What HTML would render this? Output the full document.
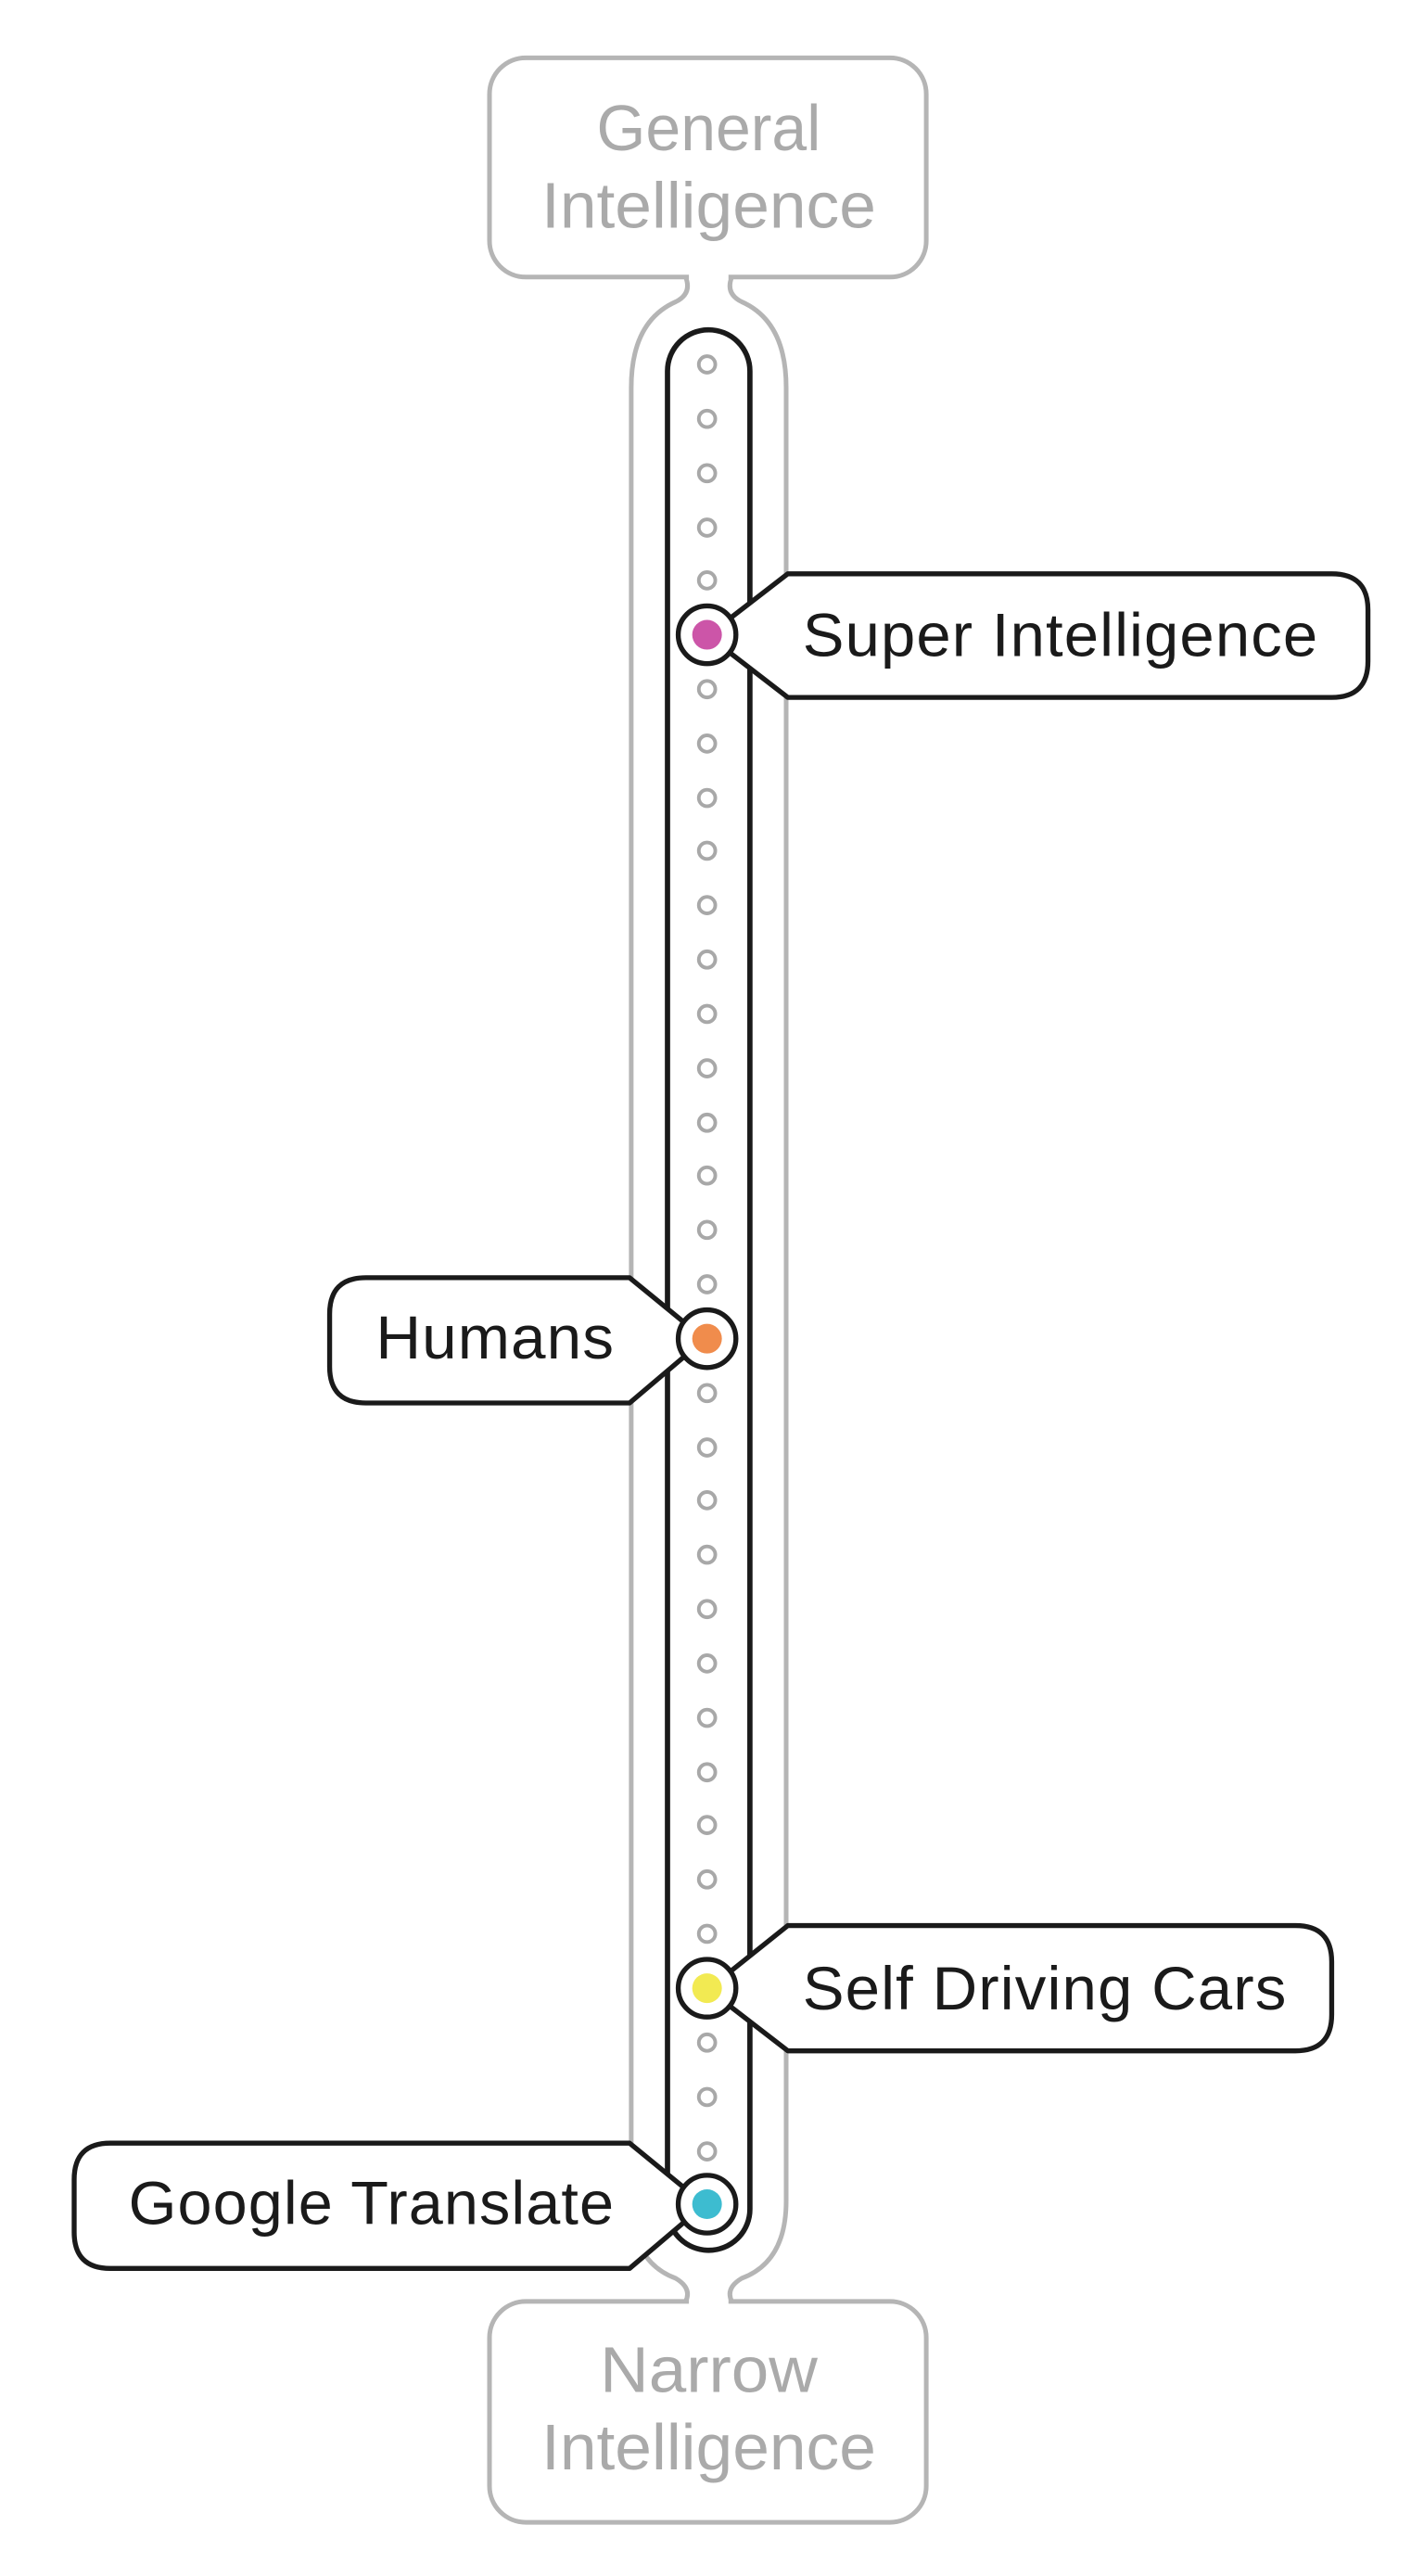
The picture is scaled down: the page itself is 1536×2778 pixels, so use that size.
<!DOCTYPE html>
<html><head><meta charset="utf-8"><style>
html,body{margin:0;padding:0;background:#fff;}
svg{display:block;}
text{font-family:"Liberation Sans",sans-serif;}
</style></head><body>
<svg width="1536" height="2778" viewBox="0 0 864 1562.5" xmlns="http://www.w3.org/2000/svg">
<rect width="864" height="1562.5" fill="#fff"/>
<rect x="297" y="35" width="265" height="133" rx="22" fill="#fff" stroke="#b5b5b5" stroke-width="2.8"/>
<line x1="418" y1="168" x2="442" y2="168" stroke="#fff" stroke-width="4"/>
<rect x="297" y="1396" width="265" height="134" rx="22" fill="#fff" stroke="#b5b5b5" stroke-width="2.8"/>
<line x1="418" y1="1396" x2="442" y2="1396" stroke="#fff" stroke-width="4"/>
<path d="M416,168 Q420,178 410,183 Q383,195 383,235 V1335 Q383,1372 410,1382 Q420,1388 416,1396" fill="none" stroke="#b5b5b5" stroke-width="2.8"/>
<path d="M444,168 Q440,178 450,183 Q477,195 477,235 V1335 Q477,1372 450,1382 Q440,1388 444,1396" fill="none" stroke="#b5b5b5" stroke-width="2.8"/>
<rect x="405" y="200" width="50" height="1165" rx="25" fill="#fff" stroke="#1a1a1a" stroke-width="3.2"/>
<g fill="none" stroke="#a8a8a8" stroke-width="2.2">
<circle cx="429" cy="221" r="5"/><circle cx="429" cy="254" r="5"/><circle cx="429" cy="287" r="5"/><circle cx="429" cy="320" r="5"/><circle cx="429" cy="352" r="5"/>
<circle cx="429" cy="418" r="5"/><circle cx="429" cy="451" r="5"/><circle cx="429" cy="484" r="5"/><circle cx="429" cy="516" r="5"/><circle cx="429" cy="549" r="5"/><circle cx="429" cy="582" r="5"/><circle cx="429" cy="615" r="5"/><circle cx="429" cy="648" r="5"/><circle cx="429" cy="681" r="5"/><circle cx="429" cy="713" r="5"/><circle cx="429" cy="746" r="5"/><circle cx="429" cy="779" r="5"/>
<circle cx="429" cy="845" r="5"/><circle cx="429" cy="878" r="5"/><circle cx="429" cy="910" r="5"/><circle cx="429" cy="943" r="5"/><circle cx="429" cy="976" r="5"/><circle cx="429" cy="1009" r="5"/><circle cx="429" cy="1042" r="5"/><circle cx="429" cy="1075" r="5"/><circle cx="429" cy="1107" r="5"/><circle cx="429" cy="1140" r="5"/><circle cx="429" cy="1173" r="5"/>
<circle cx="429" cy="1239" r="5"/><circle cx="429" cy="1272" r="5"/><circle cx="429" cy="1305" r="5"/>
</g>
<g fill="#fff" stroke="#1a1a1a" stroke-width="3" stroke-linejoin="round">
<path d="M443,375 L478,348 H808 Q830,348 830,370 V401 Q830,423 808,423 H478 L443,396"/>
<path d="M415,802 L382,775 H222 Q200,775 200,797 V829 Q200,851 222,851 H382 L415,823"/>
<path d="M443,1196 L478,1168 H786 Q808,1168 808,1190 V1222 Q808,1244 786,1244 H478 L443,1217"/>
<path d="M415,1327 L382,1300 H67 Q45,1300 45,1322 V1354 Q45,1376 67,1376 H382 L415,1348"/>
</g>
<g stroke="#1a1a1a" stroke-width="3" fill="#fff">
<circle cx="429" cy="385" r="17.5"/><circle cx="429" cy="812" r="17.5"/><circle cx="429" cy="1206" r="17.5"/><circle cx="429" cy="1337" r="17.5"/>
</g>
<circle cx="429" cy="385" r="9" fill="#cc55a8"/>
<circle cx="429" cy="812" r="9" fill="#f08c4c"/>
<circle cx="429" cy="1206" r="9" fill="#f2ea52"/>
<circle cx="429" cy="1337" r="9" fill="#3dbcd0"/>
<g font-size="37" fill="#1a1a1a" letter-spacing="0.6">
<text x="487" y="398" textLength="313" lengthAdjust="spacingAndGlyphs">Super Intelligence</text>
<text x="228" y="824" textLength="145" lengthAdjust="spacingAndGlyphs">Humans</text>
<text x="487" y="1219" textLength="294" lengthAdjust="spacingAndGlyphs">Self Driving Cars</text>
<text x="78" y="1349" textLength="295" lengthAdjust="spacingAndGlyphs">Google Translate</text>
</g>
<g font-size="39" fill="#aaaaaa" text-anchor="middle">
<text x="430" y="91" textLength="136" lengthAdjust="spacingAndGlyphs">General</text>
<text x="430" y="138" textLength="203" lengthAdjust="spacingAndGlyphs">Intelligence</text>
<text x="430" y="1451" textLength="132" lengthAdjust="spacingAndGlyphs">Narrow</text>
<text x="430" y="1498" textLength="203" lengthAdjust="spacingAndGlyphs">Intelligence</text>
</g>
</svg>
</body></html>
